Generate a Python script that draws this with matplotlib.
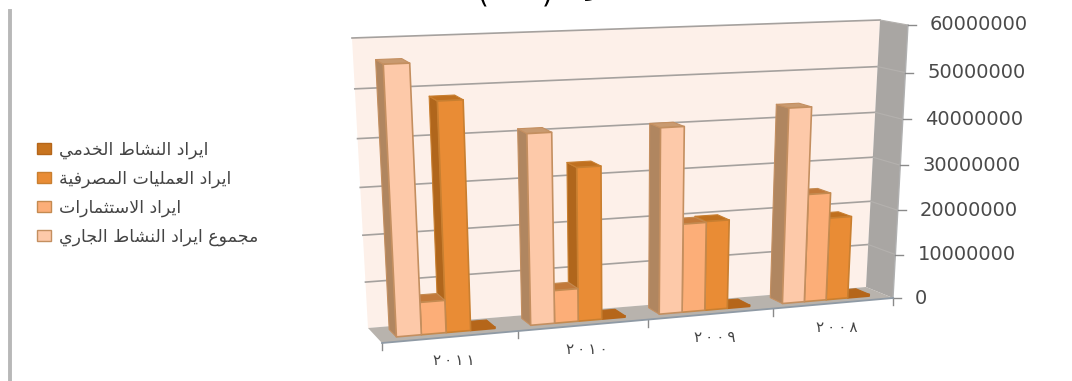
'''income by activity, 2008-2011, drawn as a 3d style column chart
'''
import unicodedata

import numpy as np
import matplotlib
matplotlib.use('Agg')
import matplotlib.pyplot as plt
from matplotlib.patches import Patch

years = ['٢٠١١', '٢٠١٠', '٢٠٠٩', '٢٠٠٨']
series_names = ['مجموع ايراد النشاط الجاري', 'ايراد الاستثمارات',
                'ايراد العمليات المصرفية', 'ايراد النشاط الخدمي']
total_income = [56000000, 40800000, 40500000, 43200000]
investment_income = [7000000, 7200000, 19600000, 24200000]
banking_income = [48300000, 33200000, 19800000, 18600000]
service_income = [300000, 300000, 300000, 400000]
y_ticks = [0, 10000000, 20000000, 30000000, 40000000, 50000000, 60000000]

front_colors = ['#fdc9a9', '#fcae78', '#e98c35', '#c8741f']
side_colors = ['#b08660', '#b87f48', '#b0661c', '#a85f18']
top_colors = ['#c99a70', '#c2793a', '#c0701f', '#b5661a']
edge_colors = ['#c48f60', '#c48a50', '#c97f30', '#b5661a']
ymax = 60000000.0


def homography(corners):
    '''unit square -> image quad, corners are (0,0) (1,0) (1,1) (0,1)'''
    src = [(0, 0), (1, 0), (1, 1), (0, 1)]
    A, b = [], []
    for (u, v), (x, y) in zip(src, corners):
        A.append([u, v, 1, 0, 0, 0, -u * x, -v * x])
        A.append([0, 0, 0, u, v, 1, -u * y, -v * y])
        b += [x, y]
    return np.append(np.linalg.solve(np.array(A, float), np.array(b, float)), 1).reshape(3, 3)


H_back = homography([(368, 328), (866, 287), (880, 20), (352, 38)])
H_front = homography([(382, 343), (893, 298), (908, 25), (367, 47)])


def project(cat, value, depth):
    '''cat in 0..4 along the floor, value in data units, depth 0 at the wall, 1 at the front'''
    p = np.array([cat / 4.0, value / ymax, 1.0])
    a = H_back @ p
    c = H_front @ p
    return (1 - depth) * a[:2] / a[2] + depth * c[:2] / c[2]


def shape_arabic(text):
    '''join arabic letters and lay them out left to right, the text engine does neither'''
    no_left_join = set('اأإآدذرزوؤةءى')
    is_letter = lambda c: '\u0621' <= c <= '\u064a'
    out = []
    i = 0
    while i < len(text):
        ch = text[i]
        before = i > 0 and is_letter(text[i - 1]) and text[i - 1] not in no_left_join
        if not is_letter(ch):
            out.append(ch)
        elif ch == 'ل' and text[i + 1:i + 2] == 'ا':
            # lam + alef is a single glyph
            out.append('\ufefc' if before else '\ufefb')
            i += 1
        else:
            after = ch not in no_left_join and i + 1 < len(text) and is_letter(text[i + 1])
            form = {(0, 0): 'ISOLATED', (0, 1): 'INITIAL', (1, 0): 'FINAL', (1, 1): 'MEDIAL'}[(int(before), int(after))]
            name = unicodedata.name(ch)
            try:
                out.append(unicodedata.lookup(name + ' ' + form + ' FORM'))
            except KeyError:
                out.append(unicodedata.lookup(name + ' ISOLATED FORM'))
        i += 1
    return ''.join(reversed(out))


def quad(ax, pts, color, edge=None, lw=0.0, zorder=2):
    pts = np.array(pts)
    ax.fill(pts[:, 0], pts[:, 1], facecolor=color, edgecolor=edge if edge else color,
            linewidth=lw, zorder=zorder, joinstyle='round')


def draw_bar(ax, c0, c1, value, d0, d1, i, zorder):
    fl = project(c0, 0, d1)
    fr = project(c1, 0, d1)
    tl = project(c0, value, d1)
    tr = project(c1, value, d1)
    bl = project(c0, 0, d0)
    btl = project(c0, value, d0)
    btr = project(c1, value, d0)
    quad(ax, [bl, fl, tl, btl], side_colors[i], edge_colors[i], 0.8, zorder)
    quad(ax, [btl, btr, tr, tl], top_colors[i], edge_colors[i], 0.8, zorder)
    quad(ax, [fl, fr, tr, tl], front_colors[i], edge_colors[i], 1.2, zorder)


fig = plt.figure(figsize=(10.72, 3.81), dpi=100)
ax = fig.add_axes([0, 0, 1, 1])
ax.set_xlim(0, 1072)
ax.set_ylim(381, 0)
ax.axis('off')

# walls and floor
quad(ax, [project(0, 0, 0), project(4, 0, 0), project(4, ymax, 0), project(0, ymax, 0)], '#fdf0e9', zorder=1)
quad(ax, [project(4, 0, 0), project(4, 0, 1), project(4, ymax, 1), project(4, ymax, 0)], '#a9a6a3', zorder=1)
quad(ax, [project(0, 0, 0), project(4, 0, 0), project(4, 0, 1), project(0, 0, 1)], '#b8b3ad', zorder=1)
f0, f1 = project(0, 0, 1), project(4, 0, 1)
ax.plot([f0[0], f1[0]], [f0[1], f1[1]], color='#8f9aa5', lw=1.3, zorder=1.5)

for t in y_ticks[1:]:
    a, b, c = project(0, t, 0), project(4, t, 0), project(4, t, 1)
    ax.plot([a[0], b[0]], [a[1], b[1]], color='#a5a19e', lw=1.2, zorder=1.2)
    ax.plot([b[0], c[0]], [b[1], c[1]], color='#b4b1ae', lw=0.8, zorder=1.2)

# right axis
p0, p1 = project(4, 0, 1), project(4, ymax, 1)
ax.plot([p0[0], p1[0]], [p0[1], p1[1]], color='#b0b0b0', lw=1.0, zorder=1.3)
for t in y_ticks:
    p = project(4, t, 1)
    ax.plot([p[0], p[0] + 8], [p[1], p[1]], color='#8a8a8a', lw=1.0, zorder=1.3)
    ax.text(p[0] + 22, p[1], str(t), fontsize=14, color='#4a4a4a', ha='left', va='center')

# category ticks and labels
for k in range(5):
    p = project(k, 0, 1)
    ax.plot([p[0], p[0]], [p[1], p[1] + 7], color='#8a8a8a', lw=1.0, zorder=1.3)
for k, name in enumerate(years):
    p = project(k + 0.5, 0, 1)
    ax.text(p[0] + 3, p[1] + 24, '\u2009'.join(name), fontsize=11, color='#444444', ha='center', va='center',
            family='DejaVu Sans')

# columns, right to left so the nearer ones overlap
series = [total_income, investment_income, banking_income, service_income]
bar_w = 0.1825
margin = 0.135
z = 3
for k in range(len(years) - 1, -1, -1):
    for i in range(len(series) - 1, -1, -1):
        c0 = k + margin + i * bar_w
        draw_bar(ax, c0, c0 + bar_w, series[i][k], 0.2, 0.7, i, z)
        z += 1

handles = [Patch(facecolor=front_colors[i], edgecolor=edge_colors[i], label=shape_arabic(series_names[i]))
           for i in range(3, -1, -1)]
ax.legend(handles=handles, loc='center left', bbox_to_anchor=(37, 193), bbox_transform=ax.transData,
          frameon=False, fontsize=12.5, labelcolor='#444444', handlelength=0.8, handleheight=0.6,
          handletextpad=0.45, labelspacing=0.62, borderpad=0, borderaxespad=0)

# caption runs off the top edge, frame line on the left
ax.text(515, 2, '(      )', fontsize=20, color='black', ha='center', va='baseline')
ax.text(566, -6, shape_arabic('جدول'), fontsize=20, color='black', ha='left', va='baseline')
ax.plot([10, 10], [11, 381], color='#b8b8b8', lw=2.8, zorder=1)

fig.savefig('out.png', dpi=100)
